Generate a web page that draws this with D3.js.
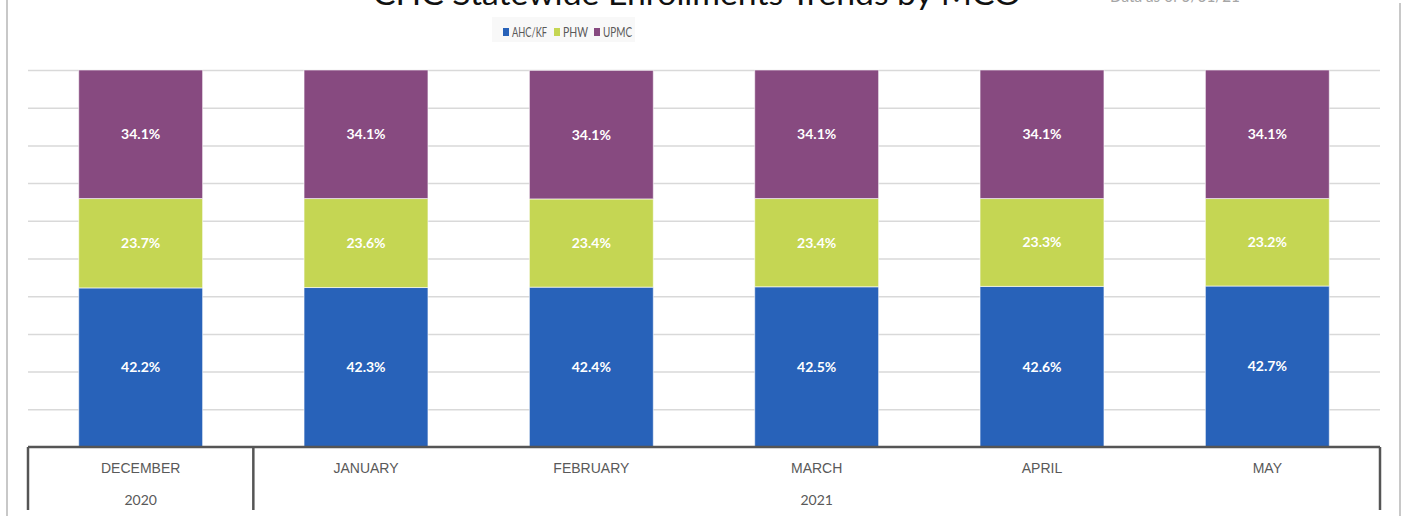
<!DOCTYPE html>
<html>
<head>
<meta charset="utf-8">
<script src="https://cdn.jsdelivr.net/npm/d3@7"></script>
<style>
  body { margin: 0; background: #fff; }
  svg { display: block; font-family: Lato, "Open Sans", sans-serif; }
  .grid line { stroke: #d9d9d9; stroke-width: 1.5; }
  .grid .domain { display: none; }
  .axis.x text { fill: #595959; font-size: 14px; }
  .axis.x .domain { display: none; }
  .label { fill: #fff; font-size: 14px; font-weight: bold; }
  .legend text { fill: #595959; font-size: 14px; }
</style>
</head>
<body>
<svg id="chart" width="1403" height="516"></svg>
<script>
const months = ["DECEMBER", "JANUARY", "FEBRUARY", "MARCH", "APRIL", "MAY"];
const years = [
  { year: "2020", first: "DECEMBER", last: "DECEMBER" },
  { year: "2021", first: "JANUARY", last: "MAY" }
];
const seriesNames = ["AHC/KF", "PHW", "UPMC"];
const ahcKf = [42.2, 42.3, 42.4, 42.5, 42.6, 42.7];
const phw = [23.7, 23.6, 23.4, 23.4, 23.3, 23.2];
const upmc = [34.1, 34.1, 34.1, 34.1, 34.1, 34.1];
const yTicks = [0, 10, 20, 30, 40, 50, 60, 70, 80, 90, 100];
const colors = ["#2862b9", "#c5d653", "#874a80"];

const padding = { left: 28, right: 23, top: 70, bottom: 69 };
const width = 1403, height = 516;
const innerWidth = width - padding.left - padding.right;
const innerHeight = height - padding.top - padding.bottom;

const table = months.map((m, i) => ({ month: m, "AHC/KF": ahcKf[i], "PHW": phw[i], "UPMC": upmc[i] }));
const stacked = d3.stack().keys(seriesNames)(table);

const x = d3.scaleBand().domain(months).range([0, innerWidth]).paddingInner(0.45).paddingOuter(0.225);
const y = d3.scaleLinear().domain([0, 100]).range([innerHeight, 0]);
const color = d3.scaleOrdinal().domain(seriesNames).range(colors);

const svg = d3.select("#chart");

// frame edges
svg.append("line").attr("x1", 7).attr("x2", 7).attr("y1", 0).attr("y2", height)
  .attr("stroke", "#c8c8c8").attr("stroke-width", 2);
svg.append("line").attr("x1", 1400).attr("x2", 1400).attr("y1", 3).attr("y2", height)
  .attr("stroke", "#c8c8c8").attr("stroke-width", 2);

// title (clipped at top, as in the source image)
svg.append("text")
  .attr("x", 697).attr("y", 5)
  .attr("text-anchor", "middle")
  .attr("font-size", 30)
  .attr("fill", "#111")
  .attr("textLength", 648)
  .attr("lengthAdjust", "spacingAndGlyphs")
  .text("CHC Statewide Enrollments Trends by MCO");
svg.append("text")
  .attr("x", 1110).attr("y", 2)
  .attr("font-size", 18)
  .attr("fill", "#a6a6a6")
  .attr("textLength", 130)
  .attr("lengthAdjust", "spacingAndGlyphs")
  .text("Data as of 5/31/21");

const g = svg.append("g").attr("transform", `translate(${padding.left},${padding.top})`);

// gridlines
g.append("g").attr("class", "grid")
  .call(d3.axisLeft(y).tickValues(yTicks.slice(1)).tickSizeInner(-innerWidth).tickSizeOuter(0).tickFormat(""));

// bars
const layer = g.selectAll(".series").data(stacked).enter().append("g")
  .attr("class", "series").attr("fill", d => color(d.key));
layer.selectAll("rect").data(d => d).enter().append("rect")
  .attr("x", d => x(d.data.month))
  .attr("y", d => y(d[1]))
  .attr("width", x.bandwidth())
  .attr("height", d => y(d[0]) - y(d[1]))
  .attr("stroke", "#ffffff").attr("stroke-opacity", 0.6).attr("stroke-width", 1);

layer.selectAll(".label").data(d => d.map(v => ({ v, key: d.key }))).enter().append("text")
  .attr("class", "label")
  .attr("x", d => x(d.v.data.month) + x.bandwidth() / 2)
  .attr("y", d => (y(d.v[0]) + y(d.v[1])) / 2)
  .attr("dy", "0.35em")
  .attr("text-anchor", "middle")
  .text(d => d.v.data[d.key].toFixed(1) + "%");

// x axis: months
g.append("g").attr("class", "axis x")
  .attr("transform", `translate(0,${innerHeight})`)
  .call(d3.axisBottom(x).tickSize(0).tickPadding(16));

// x axis: years
const step = x.step();
const edge = m => x(m) - (step - x.bandwidth()) / 2;
const axisG = g.append("g").attr("transform", `translate(0,${innerHeight})`);
axisG.append("line").attr("x1", 0).attr("x2", innerWidth).attr("y1", 0).attr("y2", 0)
  .attr("stroke", "#555").attr("stroke-width", 2.5);
const seps = [0, edge(years[1].first), innerWidth];
axisG.selectAll(".sep").data(seps).enter().append("line")
  .attr("x1", d => d).attr("x2", d => d).attr("y1", 0).attr("y2", 63)
  .attr("stroke", "#555").attr("stroke-width", 2.5);
axisG.selectAll(".year").data(years).enter().append("text")
  .attr("class", "year")
  .attr("x", d => (edge(d.first) + edge(d.last) + step) / 2)
  .attr("y", 58)
  .attr("text-anchor", "middle")
  .attr("fill", "#595959").attr("font-size", 14)
  .text(d => d.year);

// legend
const legend = svg.append("g").attr("class", "legend").attr("transform", "translate(492,17)");
legend.append("rect").attr("width", 143).attr("height", 25).attr("fill", "#f8f8f8");
const legendX = [11, 62, 102];
const legendW = [35, 25, 29];
const item = legend.selectAll(".item").data(seriesNames).enter().append("g")
  .attr("transform", (d, i) => `translate(${legendX[i]},0)`);
item.append("rect").attr("y", 11).attr("width", 6).attr("height", 8).attr("fill", d => color(d));
item.append("text").attr("x", 9).attr("y", 15.5).attr("dy", "0.35em")
  .attr("font-size", 14)
  .attr("textLength", (d, i) => legendW[i])
  .attr("lengthAdjust", "spacingAndGlyphs")
  .text(d => d);
</script>
</body>
</html>
